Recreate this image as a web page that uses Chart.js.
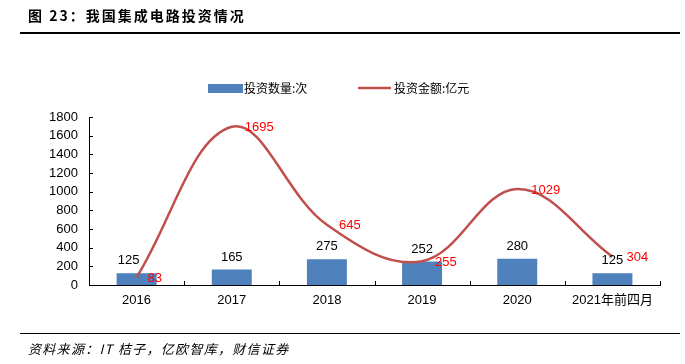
<!DOCTYPE html>
<html>
<head>
<meta charset="utf-8">
<script src="https://cdn.jsdelivr.net/npm/chart.js@4"></script>
<style>
  body { margin: 0; background: #fff; }
  #wrap { position: relative; width: 685px; height: 364px; overflow: hidden; }
  #title { position: absolute; left: 28px; top: 5px; font: bold 14px "Noto Sans CJK SC", sans-serif; letter-spacing: 2px; color: #000; }
  #topline { position: absolute; left: 20px; top: 32px; width: 660px; height: 0; border-top: 2px solid #000; }
  #botline { position: absolute; left: 20px; top: 333px; width: 660px; height: 0; border-top: 1.5px solid #000; }
  #source { position: absolute; left: 28px; top: 339px; font: italic 13px "Noto Sans CJK SC", sans-serif; letter-spacing: 1.3px; color: #000; }
  canvas { position: absolute; left: 0; top: 0; }
</style>
</head>
<body>
<div id="wrap">
  <canvas id="chart" width="685" height="364"></canvas>
  <div id="title">图 23：我国集成电路投资情况</div>
  <div id="topline"></div>
  <div id="botline"></div>
  <div id="source">资料来源：IT 桔子，亿欧智库，财信证券</div>
</div>
<script>
// data
const categories = ["2016", "2017", "2018", "2019", "2020", "2021年前四月"];
const dealCounts = [125, 165, 275, 252, 280, 125];      // 投资数量:次
const dealAmounts = [83, 1695, 645, 255, 1029, 304];    // 投资金额:亿元
const yTicks = [0, 200, 400, 600, 800, 1000, 1200, 1400, 1600, 1800];

const barColor = "#4F81BD";
const lineColor = "#C0504D";
const numFont = '13px "Liberation Sans", Arial, sans-serif';
const cnFont = '12px "Noto Sans CJK SC", sans-serif';

// small nudges for the value labels
const barLabelDx = [-8, 0, 0, 0, 0, 0];
const lineLabelDx = [11, 13, 12, 13, 14, 14];

// value labels, inside ticks and legend
const decorPlugin = {
  id: "decor",
  afterDatasetsDraw(chart) {
    const ctx = chart.ctx;
    ctx.save();
    ctx.font = numFont;
    // bar labels
    const barMeta = chart.getDatasetMeta(0);
    ctx.fillStyle = "#000";
    ctx.textAlign = "center";
    ctx.textBaseline = "bottom";
    barMeta.data.forEach((bar, i) => {
      ctx.fillText(String(dealCounts[i]), bar.x + barLabelDx[i], bar.y - 6);
    });
    // line labels
    const lineMeta = chart.getDatasetMeta(1);
    ctx.fillStyle = "#FF0000";
    ctx.textAlign = "left";
    ctx.textBaseline = "middle";
    lineMeta.data.forEach((pt, i) => {
      ctx.fillText(String(dealAmounts[i]), pt.x + lineLabelDx[i], pt.y + 1);
    });
    ctx.restore();
  },
  afterDraw(chart) {
    const ctx = chart.ctx;
    const area = chart.chartArea;
    const xs = chart.scales.x;
    const ys = chart.scales.y;
    ctx.save();
    ctx.strokeStyle = "#000";
    ctx.lineWidth = 1;
    ctx.beginPath();
    // x ticks at category boundaries, pointing up
    const step = (xs.right - xs.left) / categories.length;
    for (let i = 1; i <= categories.length; i++) {
      const x = Math.round(xs.left + i * step) + 0.5;
      ctx.moveTo(x, area.bottom);
      ctx.lineTo(x, area.bottom - 4);
    }
    // y ticks pointing right
    yTicks.forEach(v => {
      const y = Math.round(ys.getPixelForValue(v)) + 0.5;
      ctx.moveTo(area.left, y);
      ctx.lineTo(area.left + 4, y);
    });
    ctx.stroke();

    // legend
    const ds = chart.data.datasets;
    ctx.fillStyle = barColor;
    ctx.fillRect(208, 84, 35, 9);
    ctx.strokeStyle = lineColor;
    ctx.lineWidth = 2.5;
    ctx.beginPath();
    ctx.moveTo(358, 88);
    ctx.lineTo(391, 88);
    ctx.stroke();
    ctx.fillStyle = "#000";
    ctx.font = cnFont;
    ctx.textAlign = "left";
    ctx.textBaseline = "middle";
    ctx.fillText(ds[0].label, 244, 88);
    ctx.fillText(ds[1].label, 394, 88);
    ctx.restore();
  }
};

const ctx = document.getElementById("chart").getContext("2d");
const chart = new Chart(ctx, {
  type: "bar",
  data: {
    labels: categories,
    datasets: [
      {
        type: "bar",
        label: "投资数量:次",
        data: dealCounts,
        backgroundColor: barColor,
        categoryPercentage: 1,
        barPercentage: 0.42,
        order: 1
      },
      {
        type: "line",
        label: "投资金额:亿元",
        data: dealAmounts,
        borderColor: lineColor,
        borderWidth: 2.5,
        pointRadius: 0,
        tension: 0.38,
        fill: false,
        order: 0
      }
    ]
  },
  options: {
    responsive: false,
    animation: false,
    layout: { padding: { left: 0, right: 25, top: 117, bottom: 0 } },
    plugins: {
      legend: { display: false },
      tooltip: { enabled: false }
    },
    scales: {
      x: {
        grid: { display: false, drawTicks: false },
        border: { color: "#000", width: 1 },
        ticks: {
          color: "#000",
          font: { family: '"Liberation Sans", "Noto Sans CJK SC", sans-serif', size: 13 },
          padding: 8,
          maxRotation: 0,
          autoSkip: false
        },
        afterFit(s) { s.height = 364 - 285; }
      },
      y: {
        min: 0,
        max: 1800,
        grid: { display: false, drawTicks: false },
        border: { color: "#000", width: 1 },
        ticks: {
          color: "#000",
          font: { family: '"Liberation Sans", Arial, sans-serif', size: 13 },
          stepSize: 200,
          padding: 11,
          callback: v => String(v)
        },
        afterFit(s) { s.width = 89; }
      }
    }
  },
  plugins: [decorPlugin]
});
</script>
</body>
</html>
